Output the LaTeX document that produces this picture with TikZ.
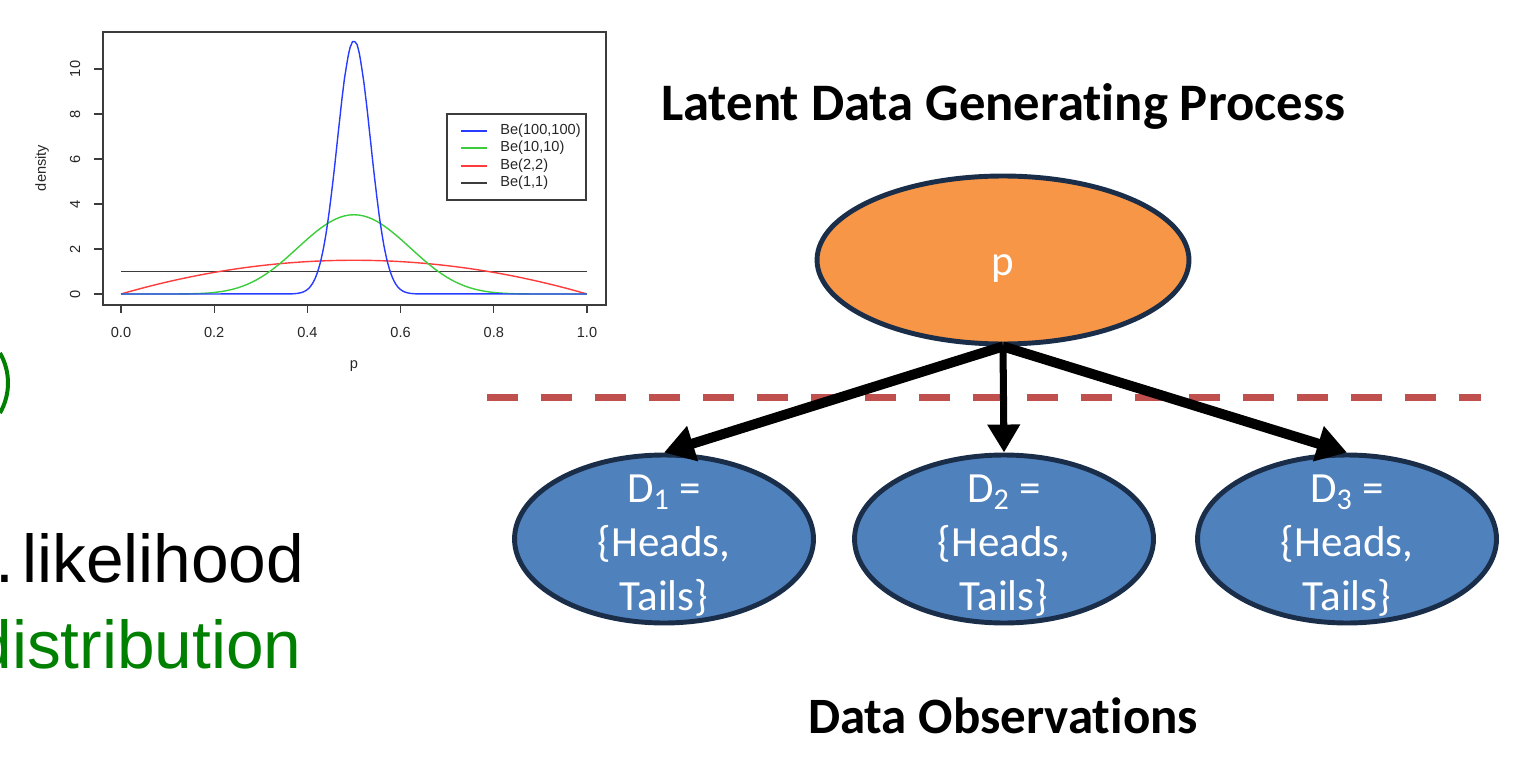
\documentclass[tikz,border=0pt]{standalone}
\usepackage{fontspec}
\setmainfont{Carlito}[Ligatures=NoCommon]
\newfontfamily\plotfont{Liberation Sans}
\usetikzlibrary{arrows.meta,shapes.geometric}

\definecolor{nodeorange}{RGB}{247,150,70}
\definecolor{nodeblue}{RGB}{79,129,189}
\definecolor{rimnavy}{RGB}{26,46,74}
\definecolor{cutred}{RGB}{192,80,77}
\definecolor{txtgreen}{RGB}{0,128,0}
\definecolor{rblue}{RGB}{40,60,255}
\definecolor{rgreen}{RGB}{60,205,60}
\definecolor{rred}{RGB}{255,60,60}
\definecolor{rgrey}{RGB}{60,60,60}

\begin{document}
\begin{tikzpicture}[x=0.02cm,y=-0.02cm,
  latent/.style={ellipse,draw=rimnavy,line width=2.8pt,fill=nodeorange,minimum width=7.44cm,minimum height=3.36cm,inner sep=0pt},
  obs/.style={ellipse,draw=rimnavy,line width=2.8pt,fill=nodeblue,minimum width=5.98cm,minimum height=3.36cm,inner sep=0pt},
  obstext/.style={text=white,align=center,inner sep=0pt,font=\fontsize{24.5}{30.6}\selectfont},
  heading/.style={anchor=base,inner sep=0pt,font=\fontsize{30}{34}\selectfont\bfseries},
  edge/.style={line width=5.7pt,-{Triangle[length=0.6cm,width=0.7cm]}},
  cut/.style={cutred,line width=0.14cm,dash pattern=on 0.62cm off 0.46cm},
  frame/.style={draw=rgrey,line width=0.6pt},
  plotlab/.style={inner sep=0pt,font=\plotfont\fontsize{8.3}{10}\selectfont,text=black!85},
  curve/.style={line width=0.8pt},
  bigtext/.style={inner sep=0pt,font=\plotfont\fontsize{38.5}{40}\selectfont}]
\useasboundingbox (0,0) rectangle (1523,763);
\clip (0,0) rectangle (1523,763);

% beta densities
\draw[frame] (103,32) rectangle (606,305);
\foreach \v in {0,2,...,10}{
  \draw[frame] (103,{294-22.5*\v}) -- ++(-9,0);
  \node[plotlab,rotate=90] (yl\v) at (75,{294-22.5*\v}) {\v};
}
\foreach \t [count=\k] in {0.0,0.2,0.4,0.6,0.8,1.0}{
  \draw[frame] ({121+466*\t},305) -- ++(0,8);
  \node[plotlab] (xl\k) at ({121+466*\t},332) {\t};
}
\node[plotlab,rotate=90] (ylab) at (42,168) {density};
\node[plotlab] (xlab) at (354,366) {p};
\begin{scope}[shift={(121,294)},x=9.32cm,y=0.45cm]
\draw[curve,rgrey] (0,1) -- (1,1);
\draw[curve,rred] plot[domain=0:1,samples=61] (\x,{6*\x*(1-\x)});
\draw[curve,rgreen] (0,0) -- plot[domain=0.02:0.98,samples=97] (\x,{exp(13.73625+9*ln(\x*(1-\x)))}) -- (1,0);
\draw[curve,rblue] (0,0) -- plot[domain=0.36:0.64,samples=113] (\x,{exp(139.6653+99*ln(\x*(1-\x)))}) -- (1,0);
\end{scope}
\draw[frame] (447,114) rectangle (586,200);
\foreach \c/\txt/\yy [count=\k] in {rblue/{Be(100,100)}/131,rgreen/{Be(10,10)}/148,rred/{Be(2,2)}/166,rgrey/{Be(1,1)}/183}{
  \draw[curve,\c] (461,\yy) -- (487,\yy);
  \node[plotlab,anchor=west] (leg\k) at (500,\yy) {\txt};
}

% cut-off slide text
\draw[txtgreen,line width=0.08cm] (-52,383) ++(-30:60) arc (-30:30:60);
\node[bigtext,anchor=base west] (lik) at (-5,582) {.\hspace{0.12em}likelihood};
\node[bigtext,anchor=base east,text=txtgreen] (dist) at (302,668) {distribution};

% generating process
\node[heading] (title) at (1003,121) {Latent Data Generating Process};
\node[latent,label={[obstext,yshift=-0.18cm]center:p}] (p) at (1003,260) {};
\node[obs,label={[obstext,yshift=-0.13cm]center:D\textsubscript{1} =\\\{Heads,\\Tails\}}] (d1) at (664,539) {};
\node[obs,label={[obstext,yshift=-0.13cm]center:D\textsubscript{2} =\\\{Heads,\\Tails\}}] (d2) at (1004,539) {};
\node[obs,label={[obstext,yshift=-0.13cm]center:D\textsubscript{3} =\\\{Heads,\\Tails\}}] (d3) at (1347,539) {};
\node[heading,font=\fontsize{29}{34}\selectfont\bfseries] (bottom) at (1003,733) {Data Observations};

\draw[cut] (487,397) -- (1481,397);
\draw[edge] (p.south) -- (d1.north);
\draw[edge,line width=4pt,-{Triangle[length=0.56cm,width=0.62cm]}] (p.south) -- (d2.north);
\draw[edge] (p.south) -- (d3.north);
\end{tikzpicture}
\end{document}
